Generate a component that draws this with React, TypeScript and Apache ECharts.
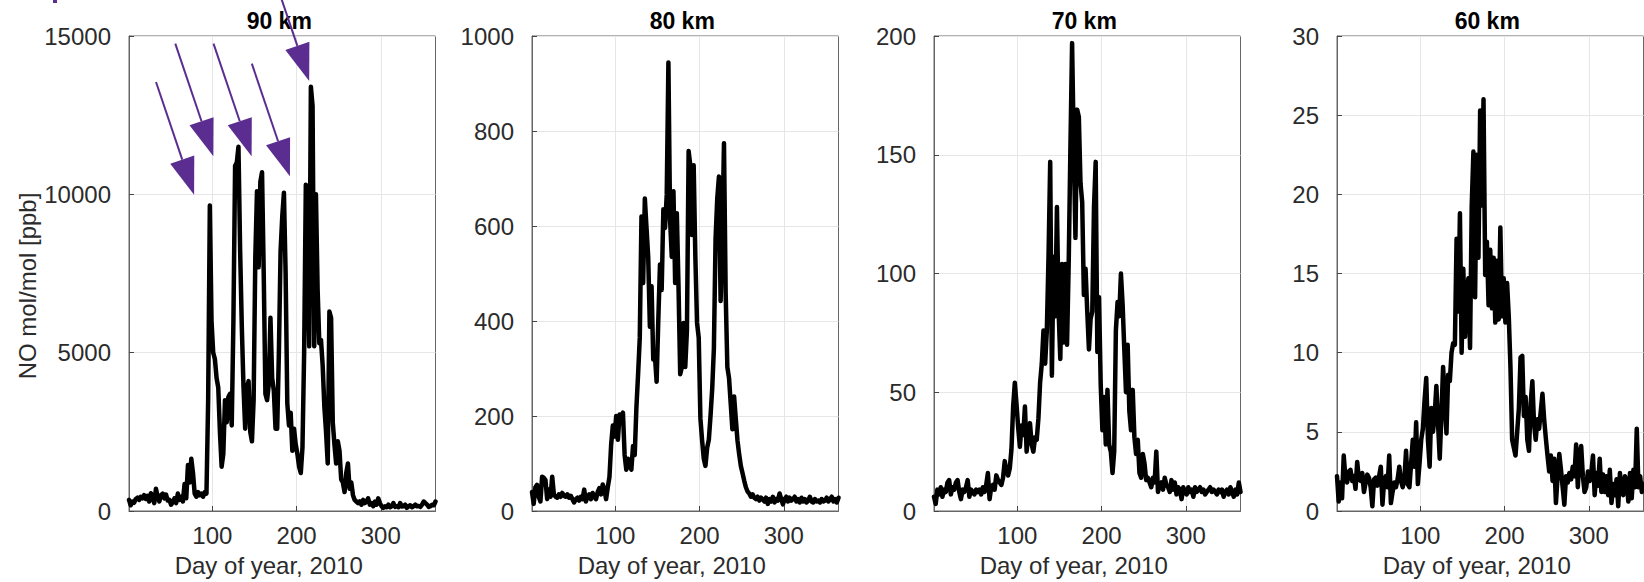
import React, { useEffect, useRef } from "react";
import * as echarts from "echarts";

// Sampling: every second day of 2010 (day 1, 3, 5, … 365)
const days: number[] = Array.from({ length: 183 }, (_, i) => 1 + 2 * i);

const altitudes = ["90 km", "80 km", "70 km", "60 km"];

// NO volume mixing ratio [ppb] at each altitude, rows of 10 samples (20 days)
const no90 = [
  350, 180, 300, 260, 380, 420, 350, 450, 400, 500,
  380, 480, 300, 560, 450, 250, 700, 450, 300, 500,
  550, 400, 520, 330, 350, 200, 280, 400, 250, 550,
  350, 450, 300, 850, 400, 1450, 900, 1650, 1200, 550,
  450, 600, 500, 550, 450, 600, 550, 3500, 9650, 6000,
  5000, 4800, 4200, 3900, 2500, 1400, 1800, 3500, 2800, 3600,
  3700, 2700, 6000, 10900, 11000, 11500, 8200, 5800, 3900, 2600,
  3900, 4100, 2500, 2200, 3500, 8000, 10100, 7700, 10400, 10700,
  7500, 3700, 3500, 4000, 6100, 4200, 3800, 2600, 2600, 5000,
  8200, 9300, 10050, 7500, 3400, 2700, 3100, 1900, 2600, 2100,
  1800, 1400, 1200, 2000, 5000, 10300, 8000, 5200, 13400, 12800,
  5200, 10000, 7000, 5300, 5400, 4600, 3300, 2500, 1500, 6300,
  6100, 2800, 2100, 1500, 2200, 1900, 1000, 900, 600, 1200,
  1500, 700, 900, 500, 350, 300, 250, 300, 200, 350,
  250, 300, 400, 200, 250, 150, 300, 200, 400, 250,
  150, 100, 150, 120, 200, 120, 150, 250, 130, 150,
  120, 250, 140, 150, 200, 100, 150, 180, 120, 150,
  200, 150, 160, 130, 200, 300, 250, 200, 130, 150,
  200, 180, 300,
];

const no80 = [
  40, 15, 50, 55, 30, 20, 72, 70, 65, 25,
  45, 30, 72, 35, 30, 28, 35, 30, 38, 32,
  30, 35, 28, 32, 25, 18, 25, 28, 22, 30,
  25, 45, 20, 30, 35, 25, 38, 30, 25, 40,
  48, 35, 56, 45, 25, 50, 72, 140, 180, 157,
  200, 150, 203, 200, 207, 118, 87, 110, 95, 87,
  137, 118, 218, 288, 365, 620, 480, 658, 596, 535,
  388, 473, 319, 326, 272, 403, 519, 465, 635, 596,
  666, 944, 612, 535, 673, 480, 627, 473, 288, 303,
  396, 303, 380, 758, 728, 581, 728, 535, 396, 365,
  195, 149, 110, 95, 133, 150, 200, 257, 342, 573,
  658, 704, 442, 581, 774, 458, 303, 280, 226, 172,
  241, 195, 149, 120, 95, 80, 64, 50, 41, 37,
  30, 35, 28, 25, 30, 22, 28, 25, 20, 28,
  15, 25, 20, 30, 18, 25, 22, 37, 25, 14,
  25, 30, 20, 28, 22, 25, 30, 20, 25, 18,
  28, 20, 25, 18, 22, 30, 20, 18, 25, 20,
  22, 18, 25, 20, 22, 28, 20, 25, 30, 20,
  25, 18, 28,
];

const no70 = [
  6, 3, 9, 7, 10, 6, 9, 8, 12, 13,
  7, 10, 9, 12, 13, 8, 5, 9, 8, 10,
  13, 6, 9, 8, 7, 9, 8, 9, 7, 10,
  8, 11, 16, 5, 10, 11, 9, 15, 13, 12,
  11, 14, 21, 17, 15, 18, 26, 44, 54, 45,
  35, 27, 36, 32, 44, 25, 33, 37, 28, 25,
  31, 30, 39, 54, 62, 76, 62, 76, 107, 147,
  57, 107, 82, 128, 84, 64, 104, 71, 104, 70,
  105, 153, 197, 153, 115, 169, 166, 138, 130, 91,
  102, 84, 68, 81, 84, 128, 147, 67, 90, 53,
  34, 48, 28, 51, 28, 25, 16, 25, 76, 88,
  82, 100, 87, 68, 50, 70, 42, 34, 51, 31,
  24, 30, 16, 14, 24, 20, 13, 14, 12, 10,
  14, 12, 25, 8, 11, 12, 9, 14, 11, 10,
  8, 13, 9, 12, 7, 10, 9, 5, 10, 8,
  7, 10, 8, 9, 6, 10, 8, 9, 10, 8,
  9, 7, 8, 9, 10, 8, 9, 8, 7, 9,
  8, 9, 6, 8, 9, 7, 10, 8, 6, 9,
  7, 12, 8,
];

const no60 = [
  2.2, 0.6, 1.8, 0.8, 3.5, 2.1, 1.8, 2.5, 2.6, 1.9,
  2.2, 1.4, 3.1, 2.0, 1.9, 2.4, 1.2, 1.8, 2.3, 2.1,
  1.5, 0.3, 2.0, 2.1, 1.6, 2.2, 2.8, 0.4, 1.9, 2.2,
  1.5, 3.5, 0.5, 1.2, 1.8, 1.5, 2.0, 2.8, 1.9, 1.5,
  2.0, 3.8, 1.7, 1.5, 3.0, 4.5, 2.8, 5.6, 1.7, 3.0,
  4.5, 5.2, 7.0, 8.4, 4.5, 2.8, 6.5, 5.0, 6.1, 7.9,
  5.5, 3.3, 6.1, 9.1, 6.8, 4.9, 8.6, 8.2, 10.0, 10.6,
  10.5, 17.2, 12.6, 18.8, 10.0, 15.3, 11.0, 13.7, 14.7, 10.3,
  19.3, 22.7, 13.5, 22.5, 16.0, 25.3, 19.3, 26.0, 14.9, 17.0,
  13.0, 16.5, 12.8, 16.0, 11.9, 15.8, 12.1, 17.9, 12.3, 14.7,
  11.9, 14.4, 12.3, 9.1, 4.5, 4.0, 3.5, 5.0, 6.5, 9.7,
  9.8, 6.0, 7.2, 4.5, 3.8, 6.8, 8.2, 5.5, 4.5, 5.8,
  5.2, 6.3, 7.4, 5.8, 4.6, 3.5, 2.5, 3.5, 1.9, 3.3,
  0.5, 2.2, 3.6, 2.6, 1.5, 0.4, 2.2, 1.8, 2.4, 2.0,
  2.8, 2.2, 4.2, 1.5, 3.5, 4.1, 2.2, 1.2, 1.5, 2.5,
  1.9, 2.4, 3.5, 1.0, 2.4, 1.6, 3.3, 1.2, 2.3, 1.2,
  2.2, 1.0, 2.6, 0.5, 1.7, 1.0, 2.0, 0.3, 2.4, 1.4,
  1.0, 2.2, 1.9, 0.6, 2.4, 0.8, 2.6, 1.5, 5.2, 1.5,
  2.2, 1.2, 1.7,
];

const profiles = [no90, no80, no70, no60];

// y-axis ranges and tick steps per panel
const yMax = [15000, 1000, 200, 30];
const yStep = [5000, 200, 50, 5];
const dayTicks = [100, 200, 300];

// Arrow tips in the 90 km panel: [day of year, NO ppb]
const arrowTips: [number, number][] = [
  [78.3, 9990],
  [101.2, 11200],
  [146.6, 11200],
  [192.1, 10570],
  [215, 13580],
];

const FONT = '"Liberation Sans", Arial, Helvetica, sans-serif';
const FONT_SIZE = 24;
const PURPLE = "#5c2d91";
const AXIS = "#666666";
const TEXT = "#2b2b2b";
const GRID = "#e6e6e6";

const gridLefts = [129, 532, 934, 1337];
const gridWidth = 306.5;
const gridTop = 36;
const gridHeight = 481;

export default function App() {
  const ref = useRef<HTMLDivElement>(null);

  useEffect(() => {
    if (!ref.current) return;
    const chart = echarts.init(ref.current, undefined, { renderer: "svg" });

    const option: any = {
      animation: false,
      backgroundColor: "#ffffff",
      title: altitudes.map((t, i) => ({
        text: t,
        left: gridLefts[i] + gridWidth / 2 - 8,
        top: 4,
        textAlign: "center",
        textStyle: { fontFamily: FONT, fontSize: 23, fontWeight: "bold", color: "#000" },
      })),
      grid: gridLefts.map((l) => ({
        left: l,
        top: gridTop,
        width: gridWidth,
        height: gridHeight,
        show: true,
        borderColor: AXIS,
        borderWidth: 1,
        backgroundColor: "#fff",
      })),
      xAxis: gridLefts.map((_, i) => ({
        type: "value",
        gridIndex: i,
        min: 1,
        max: 365,
        name: "Day of year, 2010",
        nameLocation: "middle",
        nameGap: 42,
        nameTextStyle: {
          fontFamily: FONT,
          fontSize: FONT_SIZE,
          color: TEXT,
          padding: [0, 27, 0, 0],
        },
        axisLine: { show: true, lineStyle: { color: AXIS, width: 1 } },
        axisTick: {
          show: true,
          inside: true,
          length: 5,
          customValues: dayTicks,
          lineStyle: { color: "#444" },
        },
        axisLabel: {
          customValues: dayTicks,
          margin: 12,
          fontFamily: FONT,
          fontSize: FONT_SIZE,
          color: TEXT,
          formatter: (v: number) => String(v),
        },
        splitLine: { show: true, lineStyle: { color: GRID, width: 1 } },
      })),
      yAxis: gridLefts.map((_, i) => ({
        type: "value",
        gridIndex: i,
        min: 0,
        max: yMax[i],
        interval: yStep[i],
        name: i === 0 ? "NO mol/mol [ppb]" : "",
        nameLocation: "middle",
        nameGap: 90,
        nameTextStyle: {
          fontFamily: FONT,
          fontSize: FONT_SIZE,
          color: TEXT,
          padding: [0, 25, 0, 0],
        },
        axisLine: { show: true, lineStyle: { color: AXIS, width: 1 } },
        axisTick: { show: true, inside: true, length: 5, lineStyle: { color: "#444" } },
        axisLabel: {
          margin: 18,
          fontFamily: FONT,
          fontSize: FONT_SIZE,
          color: TEXT,
          formatter: (v: number) => String(v),
        },
        splitLine: { show: true, lineStyle: { color: GRID, width: 1 } },
      })),
      series: profiles.map((vals, i) => ({
        type: "line",
        xAxisIndex: i,
        yAxisIndex: i,
        data: days.map((d, j) => [d, vals[j]]),
        showSymbol: false,
        silent: true,
        clip: true,
        lineStyle: { color: "#000", width: 4.5, join: "round", cap: "round" },
      })),
    };

    chart.setOption(option);

    // Purple arrows pointing at the 90 km peaks, anchored to data coordinates
    const ux = 0.32;
    const uy = 0.947; // unit direction of travel (down-right)
    const shaft = 119;
    const headLen = 37;
    const headHalf = 12.7;
    const arrows: any[] = [];
    arrowTips.forEach(([d, v]) => {
      const [tx, ty] = chart.convertToPixel({ gridIndex: 0 }, [d, v]) as number[];
      const bx = tx - ux * headLen;
      const by = ty - uy * headLen;
      const sx = tx - ux * shaft;
      const sy = ty - uy * shaft;
      const px = -uy;
      const py = ux;
      arrows.push({
        type: "line",
        shape: { x1: sx, y1: sy, x2: bx, y2: by },
        style: { stroke: PURPLE, lineWidth: 2 },
        z: 100,
      });
      arrows.push({
        type: "polygon",
        shape: {
          points: [
            [tx, ty],
            [bx + px * headHalf, by + py * headHalf],
            [bx - px * headHalf, by - py * headHalf],
          ],
        },
        style: { fill: PURPLE },
        z: 100,
      });
    });
    arrows.push({
      type: "rect",
      shape: { x: 53, y: 0, width: 4, height: 3 },
      style: { fill: PURPLE },
      z: 100,
    });
    chart.setOption({ graphic: arrows });

    return () => chart.dispose();
  }, []);

  return (
    <div
      ref={ref}
      style={{ position: "fixed", left: 0, top: 0, width: 1644, height: 582, background: "#fff" }}
    />
  );
}
